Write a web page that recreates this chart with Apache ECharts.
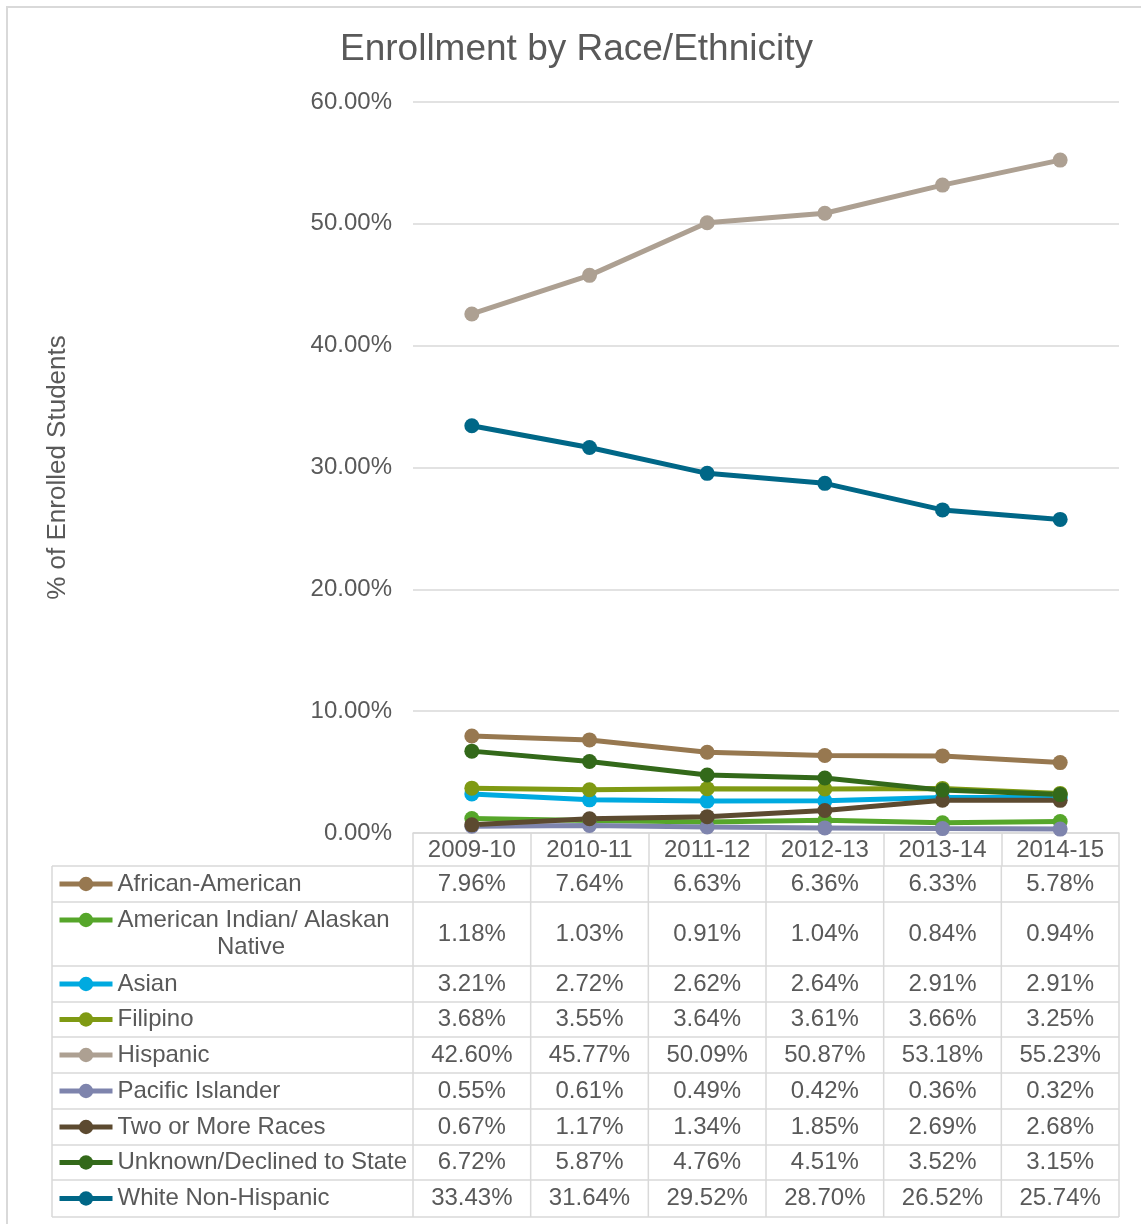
<!DOCTYPE html>
<html>
<head>
<meta charset="utf-8">
<script src="https://cdn.jsdelivr.net/npm/echarts@6/dist/echarts.min.js"></script>
<style>
html,body{margin:0;padding:0;background:#fff;}
#chart{width:1141px;height:1224px;}
</style>
</head>
<body>
<div id="chart"></div>
<script>
// ---------- data ----------
const categories = ['2009-10', '2010-11', '2011-12', '2012-13', '2013-14', '2014-15'];
const seriesNames = ['African-American', 'American Indian/ Alaskan Native', 'Asian', 'Filipino', 'Hispanic', 'Pacific Islander', 'Two or More Races', 'Unknown/Declined to State', 'White Non-Hispanic'];
const africanAmerican = [7.96, 7.64, 6.63, 6.36, 6.33, 5.78];
const americanIndian = [1.18, 1.03, 0.91, 1.04, 0.84, 0.94];
const asian = [3.21, 2.72, 2.62, 2.64, 2.91, 2.91];
const filipino = [3.68, 3.55, 3.64, 3.61, 3.66, 3.25];
const hispanic = [42.60, 45.77, 50.09, 50.87, 53.18, 55.23];
const pacificIslander = [0.55, 0.61, 0.49, 0.42, 0.36, 0.32];
const twoOrMore = [0.67, 1.17, 1.34, 1.85, 2.69, 2.68];
const unknownDeclined = [6.72, 5.87, 4.76, 4.51, 3.52, 3.15];
const whiteNonHispanic = [33.43, 31.64, 29.52, 28.70, 26.52, 25.74];
const yTicks = [0, 10, 20, 30, 40, 50, 60];

const seriesValues = [africanAmerican, americanIndian, asian, filipino, hispanic, pacificIslander, twoOrMore, unknownDeclined, whiteNonHispanic];

// ---------- styles ----------
const colors = ['#977850', '#56A62A', '#00AAE0', '#7F9A13', '#ADA092', '#7E84AD', '#5C4A30', '#33691A', '#006787'];
const FONT = 'Liberation Sans, Arial, sans-serif';
const TXT = '#595959';
const GRID_C = '#d9d9d9';
const FS = 24;

const W = 1141, H = 1224;
const gridLeft = 413, gridRight = 1119, gridTop = 102, gridBottom = 833;
const colW = (gridRight - gridLeft) / categories.length;
// table row boundaries (y) and label column left edge
const tableLeft = 52;
const rowEdges = [866, 902, 966, 1002, 1037, 1073, 1109, 1145, 1180, 1217];
const rowCenters = rowEdges.slice(0, -1).map((y, i) => (y + rowEdges[i + 1]) / 2);
const legendCenters = rowCenters.slice();
legendCenters[1] = 920;

const chart = echarts.init(document.getElementById('chart'), null, {renderer: 'canvas'});

const graphics = [];
// outer frame
graphics.push({type: 'rect', shape: {x: 7, y: 7, width: W + 10, height: H + 10}, style: {fill: 'none', stroke: GRID_C, lineWidth: 2}, silent: true});
// horizontal table lines
rowEdges.forEach(y => graphics.push({type: 'line', shape: {x1: tableLeft, y1: y, x2: gridRight, y2: y}, style: {stroke: GRID_C, lineWidth: 1.5}, silent: true}));
// vertical table lines
const vx = [tableLeft];
for (let j = 0; j <= categories.length; j++) vx.push(gridLeft + colW * j);
vx.forEach(x => graphics.push({type: 'line', shape: {x1: x, y1: rowEdges[0], x2: x, y2: rowEdges[rowEdges.length - 1]}, style: {stroke: GRID_C, lineWidth: 1.5}, silent: true}));
// cell values
seriesValues.forEach((vals, i) => {
  vals.forEach((v, j) => {
    graphics.push({type: 'text', x: gridLeft + colW * (j + 0.5), y: rowCenters[i],
      style: {text: v.toFixed(2) + '%', fill: TXT, font: FS + 'px ' + FONT, textAlign: 'center', textVerticalAlign: 'middle', align: 'center', verticalAlign: 'middle'}, silent: true});
  });
});
// second line of the wrapped legend label
graphics.push({type: 'text', x: 251, y: 947,
  style: {text: 'Native', fill: TXT, font: FS + 'px ' + FONT, textAlign: 'center', textVerticalAlign: 'middle', align: 'center', verticalAlign: 'middle'}, silent: true});

const legends = seriesNames.map((n, i) => ({
  data: [n],
  left: 57,
  top: legendCenters[i] - 12,
  padding: 0,
  itemWidth: 53,
  itemHeight: 18,
  selectedMode: false,
  formatter: i === 1 ? 'American Indian/ Alaskan' : '{name}',
  lineStyle: {width: 5},
  textStyle: {fontSize: FS, lineHeight: 24, color: TXT, fontFamily: FONT}
}));

const option = {
  animation: false,
  backgroundColor: '#fff',
  title: {
    text: 'Enrollment by Race/Ethnicity',
    left: 340, top: 31, padding: 0,
    textStyle: {fontSize: 37, fontWeight: 'normal', color: TXT, fontFamily: FONT}
  },
  legend: legends,
  grid: {left: gridLeft, right: W - gridRight, top: gridTop, bottom: H - gridBottom, containLabel: false},
  xAxis: {
    type: 'category',
    data: categories,
    boundaryGap: true,
    axisLine: {lineStyle: {color: GRID_C, width: 1.5}},
    axisTick: {show: true, interval: 0, length: 33, lineStyle: {color: GRID_C, width: 1.5}},
    axisLabel: {interval: 0, margin: 5, fontSize: FS, lineHeight: 24, color: TXT, fontFamily: FONT},
    splitLine: {show: false}
  },
  yAxis: {
    type: 'value',
    min: yTicks[0], max: yTicks[yTicks.length - 1], interval: 10,
    name: '% of Enrolled Students',
    nameLocation: 'middle',
    nameGap: 342,
    nameTextStyle: {fontSize: 26, color: TXT, fontFamily: FONT},
    axisLine: {show: false},
    axisTick: {show: false},
    axisLabel: {margin: 21, fontSize: FS, color: TXT, fontFamily: FONT, formatter: v => v.toFixed(2) + '%'},
    splitLine: {lineStyle: {color: GRID_C, width: 1.5}}
  },
  series: seriesNames.map((n, i) => ({
    name: n,
    type: 'line',
    data: seriesValues[i],
    symbol: 'circle',
    symbolSize: 15,
    color: colors[i],
    itemStyle: {color: colors[i]},
    lineStyle: {color: colors[i], width: 5},
    emphasis: {disabled: true}
  })),
  graphic: graphics
};
chart.setOption(option);
</script>
</body>
</html>
